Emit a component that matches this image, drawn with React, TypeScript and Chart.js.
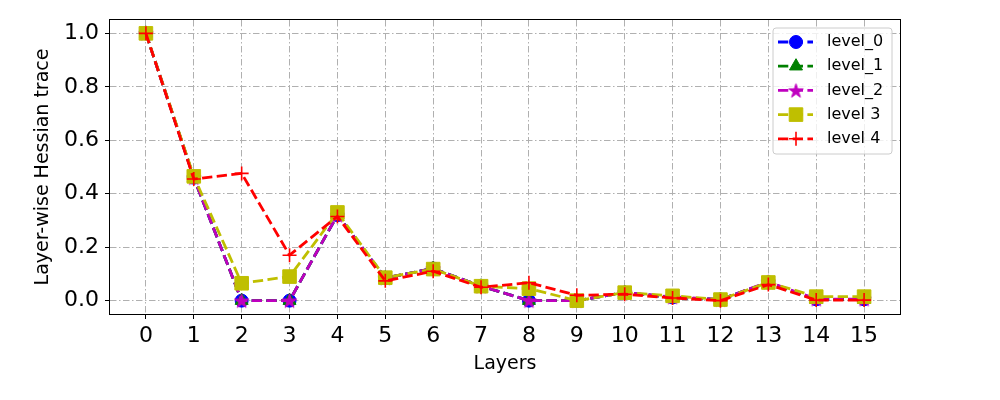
import React, { useEffect, useRef } from 'react';
import { Chart, registerables } from 'chart.js';
import { drawPoint } from 'chart.js/helpers';

Chart.register(...registerables);

const layers = [0, 1, 2, 3, 4, 5, 6, 7, 8, 9, 10, 11, 12, 13, 14, 15];
const yTickValues = [0, 0.2, 0.4, 0.6, 0.8, 1.0];
const seriesNames = ['level_0', 'level_1', 'level_2', 'level 3', 'level 4'];

const level0 = [1.0, 0.46, 0.0, 0.0, 0.32, 0.085, 0.12, 0.054, 0.0, 0.0, 0.03, 0.012, 0.004, 0.068, 0.005, 0.005];
const level1 = [1.0, 0.46, 0.0, 0.0, 0.32, 0.085, 0.12, 0.054, 0.0, 0.0, 0.03, 0.012, 0.004, 0.068, 0.004, 0.004];
const level2 = [1.0, 0.46, 0.0, 0.0, 0.32, 0.085, 0.12, 0.054, 0.0, 0.0, 0.03, 0.014, 0.004, 0.07, 0.006, 0.006];
const level3 = [1.0, 0.465, 0.065, 0.09, 0.33, 0.086, 0.118, 0.054, 0.045, 0.0, 0.03, 0.018, 0.004, 0.068, 0.015, 0.015];
const level4 = [1.0, 0.455, 0.476, 0.17, 0.315, 0.074, 0.11, 0.05, 0.067, 0.02, 0.024, 0.01, 0.0, 0.06, 0.002, 0.002];

const seriesValues = [level0, level1, level2, level3, level4];
const seriesColors = ['#0000ff', '#008000', '#bf00bf', '#bfbf00', '#ff0000'];

const FONT = '"DejaVu Sans", sans-serif';

function makeStar(color: string, outer: number): HTMLCanvasElement {
  const size = Math.ceil(outer * 2 + 4);
  const c = document.createElement('canvas');
  c.width = size;
  c.height = size;
  const ctx = c.getContext('2d')!;
  const cx = size / 2;
  const cy = size / 2 + outer * 0.1;
  const inner = outer * 0.382;
  ctx.beginPath();
  for (let i = 0; i < 10; i++) {
    const r = i % 2 === 0 ? outer : inner;
    const a = -Math.PI / 2 + (i * Math.PI) / 5;
    const px = cx + r * Math.cos(a);
    const py = cy + r * Math.sin(a);
    if (i === 0) ctx.moveTo(px, py);
    else ctx.lineTo(px, py);
  }
  ctx.closePath();
  ctx.fillStyle = color;
  ctx.fill();
  ctx.strokeStyle = color;
  ctx.lineWidth = 1;
  ctx.stroke();
  return c;
}

export default function App() {
  const canvasRef = useRef<HTMLCanvasElement | null>(null);

  useEffect(() => {
    const canvas = canvasRef.current;
    if (!canvas) return;
    const star = makeStar(seriesColors[2], 7.5);
    const markers: any[] = [
      { pointStyle: 'circle', radius: 6.5, borderWidth: 1 },
      { pointStyle: 'triangle', radius: 7.5, borderWidth: 1 },
      { pointStyle: star, radius: 7, borderWidth: 1 },
      { pointStyle: 'rect', radius: 9.6, borderWidth: 1 },
      { pointStyle: 'cross', radius: 7, borderWidth: 1.6 },
    ];
    const dash = [10.3, 4.4];
    const lineW = 2.8;

    const datasets = seriesValues.map((vals, i) => ({
      label: seriesNames[i],
      data: layers.map((x, j) => ({ x, y: vals[j] })),
      borderColor: seriesColors[i],
      backgroundColor: seriesColors[i],
      pointBackgroundColor: seriesColors[i],
      pointBorderColor: seriesColors[i],
      borderWidth: lineW,
      borderDash: dash,
      pointStyle: markers[i].pointStyle,
      pointRadius: markers[i].radius,
      pointHoverRadius: markers[i].radius,
      pointBorderWidth: markers[i].borderWidth,
      tension: 0,
      fill: false,
      order: 10 - i,
    }));

    const framePlugin = {
      id: 'frame',
      afterDatasetsDraw(chart: any) {
        const { ctx, chartArea } = chart;
        ctx.save();
        ctx.setLineDash([]);
        ctx.strokeStyle = '#000';
        ctx.lineWidth = 1;
        ctx.strokeRect(chartArea.left - 0.5, chartArea.top - 0.5, chartArea.right - chartArea.left + 1, chartArea.bottom - chartArea.top + 1);
        ctx.restore();
      },
    };

    const legendPlugin = {
      id: 'mplLegend',
      afterDraw(chart: any) {
        const { ctx, chartArea } = chart;
        const w = 119;
        const h = 126;
        const x0 = chartArea.right - 8 - w;
        const y0 = chartArea.top + 8;
        ctx.save();
        ctx.setLineDash([]);
        ctx.beginPath();
        const r = 3;
        ctx.moveTo(x0 + r, y0);
        ctx.lineTo(x0 + w - r, y0);
        ctx.arcTo(x0 + w, y0, x0 + w, y0 + r, r);
        ctx.lineTo(x0 + w, y0 + h - r);
        ctx.arcTo(x0 + w, y0 + h, x0 + w - r, y0 + h, r);
        ctx.lineTo(x0 + r, y0 + h);
        ctx.arcTo(x0, y0 + h, x0, y0 + h - r, r);
        ctx.lineTo(x0, y0 + r);
        ctx.arcTo(x0, y0, x0 + r, y0, r);
        ctx.closePath();
        ctx.fillStyle = 'rgba(255,255,255,0.8)';
        ctx.fill();
        ctx.strokeStyle = '#cccccc';
        ctx.lineWidth = 1;
        ctx.stroke();

        seriesNames.forEach((name, i) => {
          const y = y0 + 14 + i * 24.2;
          const lx0 = x0 + 5;
          const lx1 = x0 + 40;
          ctx.strokeStyle = seriesColors[i];
          ctx.fillStyle = seriesColors[i];
          ctx.lineWidth = lineW;
          ctx.setLineDash(dash);
          ctx.beginPath();
          ctx.moveTo(lx0, y);
          ctx.lineTo(lx1, y);
          ctx.stroke();
          ctx.setLineDash([]);
          ctx.lineWidth = markers[i].borderWidth;
          drawPoint(ctx, { pointStyle: markers[i].pointStyle, radius: markers[i].radius, rotation: 0, borderWidth: markers[i].borderWidth } as any, x0 + 23, y);
          ctx.fillStyle = '#000';
          ctx.font = `16px ${FONT}`;
          ctx.textAlign = 'left';
          ctx.textBaseline = 'middle';
          ctx.fillText(name, x0 + 54, y);
        });
        ctx.restore();
      },
    };

    const gridDash = [6.5, 2.5, 1.5, 2.5];

    const chart = new Chart(canvas, {
      type: 'line',
      data: { datasets: datasets as any },
      plugins: [framePlugin, legendPlugin],
      options: {
        animation: false,
        responsive: false,
        devicePixelRatio: 1,
        layout: { padding: { left: 0, right: 100, top: 20, bottom: 0 } },
        plugins: {
          legend: { display: false },
          tooltip: { enabled: false },
        },
        scales: {
          x: {
            type: 'linear',
            min: -0.75,
            max: 15.75,
            afterBuildTicks: (scale: any) => {
              scale.ticks = layers.map((v) => ({ value: v }));
            },
            afterFit: (scale: any) => {
              scale.height = 86;
            },
            ticks: {
              autoSkip: false,
              maxRotation: 0,
              color: '#000',
              padding: 4,
              font: { family: FONT, size: 22 },
              callback: (v: any) => String(v),
            },
            grid: {
              color: '#b0b0b0',
              lineWidth: 1,
              tickLength: 5,
              tickColor: '#000',
              tickWidth: 1,
              tickBorderDash: [],
            } as any,
            border: { display: false, dash: gridDash } as any,
            title: {
              display: true,
              text: 'Layers',
              color: '#000',
              font: { family: FONT, size: 19 },
              padding: { top: 0, bottom: 25 },
            },
          },
          y: {
            type: 'linear',
            min: -0.05,
            max: 1.05,
            afterBuildTicks: (scale: any) => {
              scale.ticks = yTickValues.map((v) => ({ value: v }));
            },
            afterFit: (scale: any) => {
              scale.width = 110;
            },
            ticks: {
              color: '#000',
              padding: 6,
              font: { family: FONT, size: 22 },
              callback: (v: any) => Number(v).toFixed(1),
            },
            grid: {
              color: '#b0b0b0',
              lineWidth: 1,
              tickLength: 5,
              tickColor: '#000',
              tickWidth: 1,
              tickBorderDash: [],
            } as any,
            border: { display: false, dash: gridDash } as any,
            title: {
              display: true,
              text: 'Layer-wise Hessian trace',
              color: '#000',
              font: { family: FONT, size: 19 },
              padding: { top: 32, bottom: 0 },
            },
          },
        },
      },
    });

    return () => {
      chart.destroy();
    };
  }, []);

  return (
    <div style={{ position: 'absolute', left: 0, top: 0, width: 1000, height: 400, background: '#fff' }}>
      <canvas ref={canvasRef} width={1000} height={400} style={{ width: 1000, height: 400, display: 'block' }} />
    </div>
  );
}
